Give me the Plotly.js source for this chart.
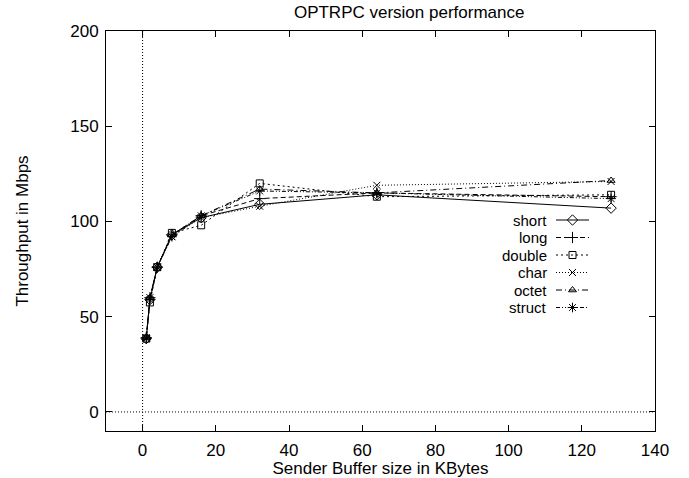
<!DOCTYPE html>
<html>
<head>
<meta charset="utf-8">
<script src="https://cdn.plot.ly/plotly-3.0.1.min.js"></script>
<style>html,body{margin:0;padding:0;background:#fff;}#chart{width:689px;height:478px;}</style>
</head>
<body>
<div id="chart"></div>
<script>
// ---- data ----
const bufferKB = [1, 2, 4, 8, 16, 32, 64, 128];
const seriesNames = ["short", "long", "double", "char", "octet", "struct"];
const shortVals  = [38.5, 59, 76, 93, 102, 109, 114, 107];
const longVals   = [39, 60, 76, 93, 103, 112, 115, 113];
const doubleVals = [38.5, 57.5, 76, 94, 98, 120, 113, 114];
const charVals   = [39, 60, 76, 92, 102, 108, 119, 121];
const octetVals  = [39, 60, 76, 93, 103, 117, 115, 121.5];
const structVals = [38.5, 59, 76, 92, 103, 116, 115, 112];
const xTicks = [0, 20, 40, 60, 80, 100, 120, 140];
const yTicks = [0, 50, 100, 150, 200];

// ---- styles ----
const seriesValues = [shortVals, longVals, doubleVals, charVals, octetVals, structVals];
const styles = [
  {dash: "solid", symbol: "diamond-open", size: 8},
  {dash: "5px,3px", symbol: "cross-thin-open", size: 8},
  {dash: "2px,3px", symbol: "square-open", size: 7},
  {dash: "1px,2px", symbol: "x-thin-open", size: 7},
  {dash: "6px,3px,1px,3px", symbol: "triangle-up-open", size: 7},
  {dash: "4px,2px,1px,2px,1px,2px", symbol: "asterisk-open", size: 8}
];
const FONT = "Liberation Sans, Arial, Helvetica, sans-serif";

const traces = [];
seriesNames.forEach((name, i) => {
  traces.push({
    type: "scatter", mode: "lines+markers", name: name,
    x: bufferKB, y: seriesValues[i], showlegend: false,
    line: {color: "#000", width: 1, dash: styles[i].dash},
    marker: {symbol: styles[i].symbol, size: styles[i].size, color: "#000",
             line: {color: "#000", width: 1}}
  });
});

// ---- key (gnuplot style: text left, sample right), on an overlay axis 0..1 ----
const plotL = 106, plotW = 549, plotT = 31, plotH = 400;
const keyLeftPx = 556, keyRightPx = 589, keyTextPx = 548, keyTopPx = 220, keyStep = 17.5;
const px2x = p => (p - plotL) / plotW;
const py2y = p => (plotT + plotH - p) / plotH;
const annotations = [];
seriesNames.forEach((name, i) => {
  const yy = py2y(keyTopPx + i * keyStep);
  traces.push({
    type: "scatter", mode: "lines", xaxis: "x2", yaxis: "y2", showlegend: false, hoverinfo: "skip",
    x: [px2x(keyLeftPx), px2x(keyRightPx)], y: [yy, yy],
    line: {color: "#000", width: 1, dash: styles[i].dash}
  });
  traces.push({
    type: "scatter", mode: "markers", xaxis: "x2", yaxis: "y2", showlegend: false, hoverinfo: "skip",
    x: [px2x((keyLeftPx + keyRightPx) / 2)], y: [yy],
    marker: {symbol: styles[i].symbol, size: styles[i].size, color: "#000", line: {color: "#000", width: 1}}
  });
  annotations.push({
    xref: "paper", yref: "paper", x: px2x(keyTextPx), y: yy,
    xanchor: "right", yanchor: "middle", showarrow: false, text: name,
    borderpad: 0,
    font: {family: FONT, size: 15, color: "#000"}
  });
});

const axisCommon = {
  showgrid: false, zeroline: false, showline: true, linecolor: "#000", linewidth: 1,
  mirror: "ticks", ticks: "inside", ticklen: 6, tickwidth: 1, tickcolor: "#000",
  tickfont: {family: FONT, size: 17, color: "#000"}, tickmode: "array"
};

const layout = {
  width: 689, height: 478,
  margin: {l: plotL, r: 689 - plotL - plotW, t: plotT, b: 478 - plotT - plotH},
  paper_bgcolor: "#fff", plot_bgcolor: "#fff",
  showlegend: false,
  font: {family: FONT, size: 17, color: "#000"},
  title: {text: "OPTRPC version performance", font: {family: FONT, size: 17, color: "#000"},
          x: (plotL + plotW / 2) / 689, xanchor: "center", y: 1 - 12 / 478, yanchor: "middle",
          xref: "paper", yref: "container"},
  xaxis: Object.assign({}, axisCommon, {
    range: [-10, 140], tickvals: xTicks, ticktext: xTicks.map(String), ticklabelstandoff: 4,
    title: {text: "Sender Buffer size in KBytes", font: {family: FONT, size: 17, color: "#000"}, standoff: 0}
  }),
  yaxis: Object.assign({}, axisCommon, {
    range: [-10, 200], tickvals: yTicks, ticktext: yTicks.map(String), ticklabelstandoff: 3,
    title: {text: "Throughput in Mbps", font: {family: FONT, size: 17, color: "#000"}, standoff: 37}
  }),
  xaxis2: {overlaying: "x", range: [0, 1], visible: false, fixedrange: true},
  yaxis2: {overlaying: "y", range: [0, 1], visible: false, fixedrange: true},
  shapes: [
    {type: "line", xref: "x", yref: "paper", x0: 0, x1: 0, y0: 0, y1: 1, line: {color: "#000", width: 1, dash: "1px,2px"}},
    {type: "line", xref: "paper", yref: "y", x0: 0, x1: 1, y0: 0, y1: 0, line: {color: "#000", width: 1, dash: "1px,2px"}}
  ],
  annotations: annotations
};

Plotly.newPlot("chart", traces, layout, {displayModeBar: false, staticPlot: true});
</script>
</body>
</html>
